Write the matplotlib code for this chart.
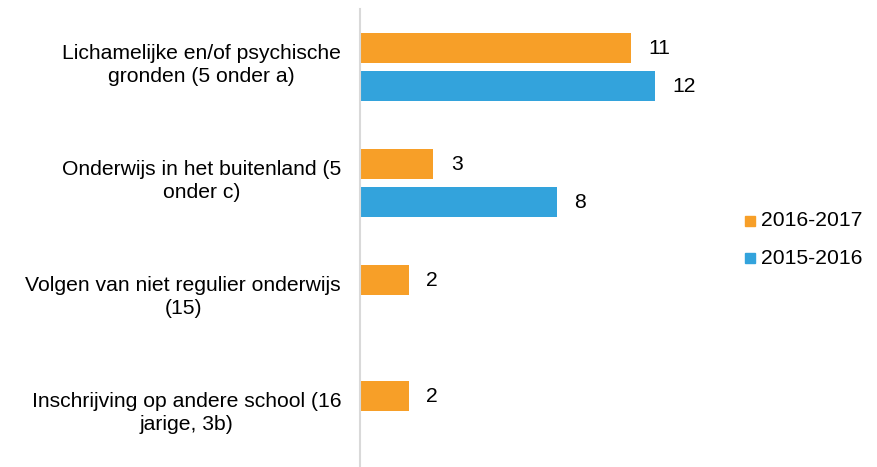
import matplotlib
matplotlib.use("Agg")
import matplotlib.pyplot as plt
import numpy as np

categories = [
    "Lichamelijke en/of psychische\ngronden (5 onder a)",
    "Onderwijs in het buitenland (5\nonder c)",
    "Volgen van niet regulier onderwijs\n(15)",
    "Inschrijving op andere school (16\njarige, 3b)",
]
series_names = ["2016-2017", "2015-2016"]
values_2016_2017 = [11, 3, 2, 2]
values_2015_2016 = [12, 8, None, None]

orange = "#F79F28"
blue = "#33A3DC"

plt.rcParams["font.family"] = ["Liberation Sans", "DejaVu Sans"]
FS = 15.2

W, H = 877, 467
fig = plt.figure(figsize=(W / 100, H / 100), dpi=100)
left_px, right_px = 359.5, 359.5 + 14 * 24.65
top_px, bot_px = 9, 467
ax = fig.add_axes([left_px / W, 1 - bot_px / H, (right_px - left_px) / W, (bot_px - top_px) / H])

y = np.arange(len(categories))
h = 30 / 116
off = 19 / 116

for yi, v in zip(y, values_2016_2017):
    if v is not None:
        ax.barh(yi - off, v, height=h, color=orange)
        ax.text(v + 0.7, yi - off, str(v), va="center", ha="left", fontsize=FS)
for yi, v in zip(y, values_2015_2016):
    if v is not None:
        ax.barh(yi + off, v, height=h, color=blue)
        ax.text(v + 0.7, yi + off, str(v), va="center", ha="left", fontsize=FS)

ax.set_xlim(0, 14)
ax.set_ylim((bot_px - 67) / 116, (top_px - 67) / 116)

for s in ["top", "right", "bottom"]:
    ax.spines[s].set_visible(False)
ax.spines["left"].set_color("#D9D9D9")
ax.spines["left"].set_linewidth(1.5)
ax.set_xticks([])
ax.set_yticks([])

for yi, cat in zip(y, categories):
    ax.annotate(cat, xy=(0, yi), xycoords=("axes fraction", "data"),
                xytext=(-18.5 * 0.72, 1.5), textcoords="offset points",
                ha="right", va="center", fontsize=FS, multialignment="center",
                linespacing=1.32)

# legend
for ypx, name, col in [(221, series_names[0], orange), (258, series_names[1], blue)]:
    fig.patches.append(plt.Rectangle((745 / W, 1 - (ypx + 5) / H), 10 / W, 10 / H,
                                     transform=fig.transFigure, color=col))
    fig.text(761 / W, 1 - ypx / H, name, ha="left", va="center", fontsize=FS)

fig.savefig("out.png", dpi=100, facecolor="white")
